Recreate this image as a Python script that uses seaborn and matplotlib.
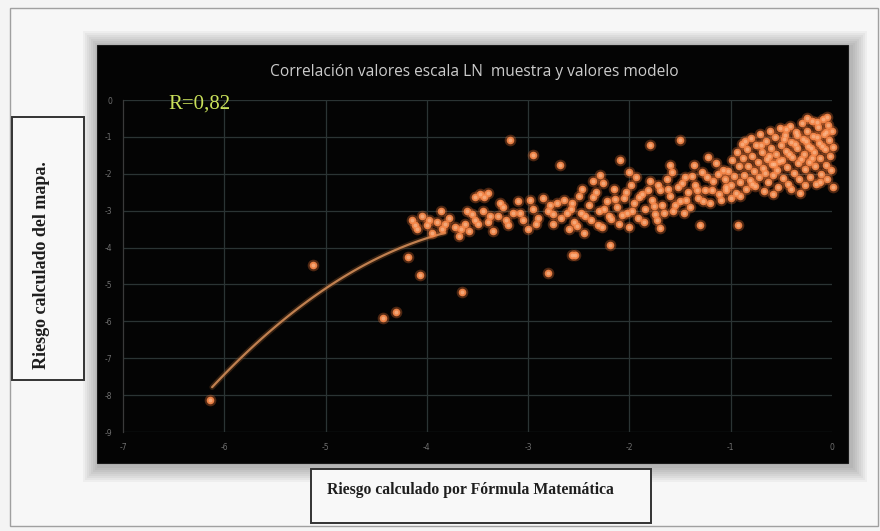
import matplotlib
matplotlib.use("Agg")
import matplotlib.pyplot as plt
from matplotlib.patches import Rectangle
import numpy as np
import pandas as pd
import seaborn as sns

# ---- data (natural-log scale) ----
x_ticks = [-7, -6, -5, -4, -3, -2, -1, 0]
y_ticks = [0, -1, -2, -3, -4, -5, -6, -7, -8, -9]

# dense block of points at the upper right
dense_x = [-1.03, -1.00, -0.99, -0.97, -0.95, -0.94, -0.92, -0.91, -0.89, -0.88,
           -0.87, -0.85, -0.84, -0.83, -0.81, -0.80, -0.79, -0.77, -0.76, -0.75,
           -0.73, -0.72, -0.71, -0.69, -0.68, -0.67, -0.65, -0.64, -0.63, -0.61,
           -0.60, -0.59, -0.58, -0.56, -0.55, -0.54, -0.53, -0.51, -0.50, -0.49,
           -0.48, -0.46, -0.45, -0.44, -0.43, -0.41, -0.40, -0.39, -0.38, -0.36,
           -0.35, -0.34, -0.33, -0.32, -0.30, -0.29, -0.28, -0.27, -0.25, -0.24,
           -0.23, -0.22, -0.20, -0.19, -0.18, -0.17, -0.16, -0.14, -0.13, -0.12,
           -0.11, -0.09, -0.08, -0.07, -0.06, -0.05, -0.04, -0.03, -0.02, -0.01,
           0.00, 0.01, 0.01, -0.86, -0.70, -0.62, -0.57, -0.47, -0.42, -0.37,
           -0.31, -0.26, -0.21, -0.15, -0.10, -0.06, -0.52, -0.66, -0.79, -0.27,
           -0.12, -0.40, -0.58, -0.91, -1.05, -0.20, -0.35, -0.45, -0.15, -0.05,
           -0.25]
dense_y = [-1.92, -2.31, -1.62, -2.05, -2.52, -1.41, -1.80, -2.21, -1.18, -1.58,
           -2.02, -2.40, -1.33, -1.79, -2.18, -1.02, -1.51, -1.93, -2.33, -1.22,
           -1.69, -2.08, -0.91, -1.41, -1.83, -2.47, -1.10, -1.59, -2.21, -0.83,
           -1.30, -1.74, -2.02, -1.00, -1.47, -1.90, -2.36, -0.77, -1.21, -1.62,
           -2.11, -0.95, -1.39, -1.81, -2.27, -0.70, -1.13, -1.55, -1.98, -0.88,
           -1.31, -1.72, -2.15, -2.52, -0.63, -1.05, -1.46, -1.88, -0.83, -1.24,
           -1.67, -2.08, -0.56, -0.98, -1.40, -1.80, -2.29, -0.74, -1.17, -1.58,
           -2.00, -0.52, -0.93, -1.33, -1.75, -2.14, -0.68, -1.09, -1.51, -1.90,
           -0.85, -1.28, -2.35, -1.12, -1.23, -1.52, -1.73, -1.05, -1.47, -1.20,
           -1.60, -1.10, -1.30, -1.01, -1.24, -0.88, -1.66, -1.98, -2.28, -2.30,
           -2.22, -2.42, -2.55, -2.60, -2.45, -1.58, -0.95, -0.78, -0.60, -0.45,
           -0.50]

# band of points in the middle of the range
mid_x = [-2.68, -2.65, -2.60, -2.58, -2.55, -2.50, -2.48, -2.45, -2.40, -2.38,
         -2.33, -2.30, -2.27, -2.22, -2.20, -2.15, -2.12, -2.10, -2.05, -2.02,
         -1.98, -1.95, -1.92, -1.88, -1.85, -1.80, -1.78, -1.75, -1.70, -1.68,
         -1.63, -1.60, -1.57, -1.52, -1.50, -1.45, -1.42, -1.40, -1.35, -1.32,
         -1.28, -1.25, -1.20, -1.17, -1.12, -1.08, -1.05, -1.00,
         -2.19, -2.54, -1.70, -1.30, -2.09, -1.50, -1.80, -2.69, -2.29,
         -2.36, -2.00, -1.60, -1.22,
         -2.62, -2.57, -2.52, -2.44, -2.36, -2.31, -2.25, -2.18, -2.14, -2.07,
         -2.03, -1.97, -1.91, -1.86, -1.82, -1.76, -1.72, -1.66, -1.62, -1.55,
         -1.48, -1.44, -1.38, -1.33, -1.27, -1.23, -1.18, -1.13, -1.10, -1.06,
         -2.75, -2.47, -2.26, -1.94, -1.58, -1.36, -1.15, -2.00, -1.73, -1.46]
mid_y = [-3.20, -2.70, -3.50, -2.95, -3.30, -2.60, -3.05, -3.60, -2.85, -3.25,
         -2.50, -3.00, -3.45, -2.75, -3.15, -2.40, -2.90, -3.35, -2.65, -3.05,
         -2.30, -2.80, -3.20, -2.55, -2.95, -2.20, -2.70, -3.10, -2.45, -2.85,
         -2.15, -2.60, -3.00, -2.35, -2.75, -2.10, -2.50, -2.90, -2.30, -2.65,
         -1.95, -2.45, -2.80, -2.20, -2.55, -1.90, -2.35, -2.65,
         -3.93, -4.20, -3.47, -3.39, -1.63, -1.08, -1.22, -1.76, -2.03,
         -2.20, -1.95, -1.75, -1.55,
         -3.05, -2.78, -3.42, -3.15, -2.62, -3.38, -2.95, -3.22, -2.68, -3.12,
         -2.50, -3.00, -2.62, -3.30, -2.45, -2.88, -2.30, -3.05, -2.40, -2.85,
         -2.25, -2.70, -2.05, -2.45, -2.75, -2.10, -2.45, -2.00, -2.70, -2.15,
         -3.10, -2.40, -2.25, -2.10, -1.95, -1.75, -1.70, -3.45, -3.25, -3.05]

# lower-left part of the cloud
left_x = [-4.15, -4.10, -4.05, -4.00, -3.95, -3.90, -3.85, -3.78, -3.72, -3.68,
          -3.62, -3.58, -3.55, -3.50, -3.45, -3.40, -3.35, -3.30, -3.25, -3.20,
          -3.15, -3.10, -3.05, -3.00, -2.95, -2.90, -2.85, -2.80, -2.75, -2.72,
          -3.52, -3.48, -3.44, -3.40, -3.86,
          -4.12, -3.98, -3.82, -3.66, -3.52, -3.38, -3.22, -3.08, -2.92, -2.78,
          -3.60, -3.28, -2.98]
left_y = [-3.25, -3.50, -3.15, -3.40, -3.60, -3.30, -3.50, -3.20, -3.45, -3.70,
          -3.35, -3.55, -3.10, -3.35, -3.00, -3.30, -3.55, -3.15, -2.90, -3.40,
          -3.05, -2.75, -3.25, -3.50, -2.95, -3.20, -2.65, -3.00, -3.35, -2.80,
          -2.62, -2.55, -2.62, -2.52, -3.00,
          -3.40, -3.25, -3.35, -3.50, -3.25, -3.15, -3.25, -3.05, -3.35, -2.85,
          -3.00, -2.80, -2.70]

# isolated observations
lone_x = [-6.14, -5.12, -4.43, -4.30, -4.19, -4.07, -3.65, -2.80, -2.57, -3.18, -2.95, -0.93]
lone_y = [-8.13, -4.47, -5.91, -5.75, -4.25, -4.74, -5.20, -4.69, -4.20, -1.08, -1.49, -3.39]

# quadratic trend (a, b, c) and the span it is drawn over
trend_coef = [-0.483, -2.983, -7.95]
trend_span = [-6.12, -3.82]

r_label = "R=0,82"
title = "Correlación valores escala LN  muestra y valores modelo"
x_label = "Riesgo calculado por Fórmula Matemática"
y_label = "Riesgo calculado del mapa."

points = pd.DataFrame({
    "x": dense_x + mid_x + left_x + lone_x,
    "y": dense_y + mid_y + left_y + lone_y,
})
tx = np.linspace(trend_span[0], trend_span[1], 120)
trend = pd.DataFrame({"x": tx, "y": np.polyval(trend_coef, tx)})

# ---- figure ----
W, H = 880, 531
sns.set_theme(style="dark")
plt.rcParams["font.family"] = ["DejaVu Sans"]
fig = plt.figure(figsize=(W / 100, H / 100), dpi=100)
fig.patch.set_facecolor("#f4f4f4")


def fbox(x0, y0, x1, y1):
    """pixel box (top-left origin) -> figure fraction rect"""
    return [x0 / W, 1 - y1 / H, (x1 - x0) / W, (y1 - y0) / H]


def frect(x0, y0, x1, y1, **kw):
    l, b, w, h = fbox(x0, y0, x1, y1)
    r = Rectangle((l, b), w, h, transform=fig.transFigure, **kw)
    fig.patches.append(r)
    return r


# outer frame
frect(10, 8, 878, 526, facecolor="#f7f7f7", edgecolor="#a0a0a0", lw=1.0, zorder=0)

# soft shadow around the dark panel
for pad in range(16, 0, -2):
    frect(97 - pad + 2, 45 - pad + 2, 848 + pad + 3, 463 + pad + 3,
          facecolor="#000000", edgecolor="none", alpha=0.035, zorder=1)

# dark panel
frect(97, 45, 848, 463, facecolor="#040404", edgecolor="#1a1a1a", lw=0.8, zorder=2)

# label boxes
frect(12, 117, 84, 380, facecolor="#f8f8f8", edgecolor="#333333", lw=1.4, zorder=2)
frect(311, 469, 651, 523, facecolor="#f8f8f8", edgecolor="#333333", lw=1.4, zorder=2)

ax = fig.add_axes(fbox(123, 100, 832, 432))
ax.set_facecolor("none")
ax.set_zorder(3)
ax.set_xlim(-7, 0)
ax.set_ylim(-9, 0)

ax.set_xticks(x_ticks)
ax.set_yticks(y_ticks)
ax.set_xticklabels([str(v) for v in x_ticks])
ax.set_yticklabels([str(v) for v in y_ticks])
ax.tick_params(axis="both", length=0, labelsize=5.5, labelcolor="#6f6f6f", pad=8)

# grid
for v in x_ticks[1:-1]:
    ax.axvline(v, color="#2b3434", lw=0.9, zorder=0)
for v in y_ticks:
    ax.axhline(v, color="#2b3434", lw=0.9, zorder=0)
ax.grid(False)
for s in ["top", "right", "bottom"]:
    ax.spines[s].set_visible(False)
ax.spines["left"].set_color("#3a3a3a")
ax.spines["left"].set_linewidth(0.9)

# trend line (glow + core)
sns.lineplot(data=trend, x="x", y="y", ax=ax, color="#8a5026", lw=4, alpha=0.35, zorder=2)
sns.lineplot(data=trend, x="x", y="y", ax=ax, color="#c08050", lw=1.6, zorder=3)

# scatter: soft glow, body, highlight
sns.scatterplot(data=points, x="x", y="y", ax=ax, s=70, color="#ff7a34",
                alpha=0.3, linewidth=0, clip_on=False, zorder=4)
sns.scatterplot(data=points, x="x", y="y", ax=ax, s=30, color="#f7884a",
                alpha=0.92, linewidth=0, clip_on=False, zorder=5)
sns.scatterplot(data=points, x="x", y="y", ax=ax, s=8, color="#fcc6a0",
                alpha=0.55, linewidth=0, clip_on=False, zorder=6)
ax.set_xlabel("")
ax.set_ylabel("")

# texts
fig.text(474 / W, 1 - 72 / H, title, ha="center", va="center",
         color="#cccccc", fontsize=11.2, family="Open Sans", zorder=10)
fig.text(199 / W, 1 - 104 / H, r_label, ha="center", va="center",
         color="#c9e05a", fontsize=15, family="Liberation Serif", zorder=10)
fig.text(42 / W, 1 - 265 / H, y_label, ha="center", va="center", rotation=90,
         color="#1e1e1e", fontsize=13, family="Liberation Serif",
         fontweight="bold", zorder=10)
fig.text(327 / W, 1 - 490 / H, x_label, ha="left", va="center",
         color="#1e1e1e", fontsize=11.3, family="Liberation Serif",
         fontweight="bold", zorder=10)

fig.savefig("out.png", dpi=100, facecolor=fig.get_facecolor())
